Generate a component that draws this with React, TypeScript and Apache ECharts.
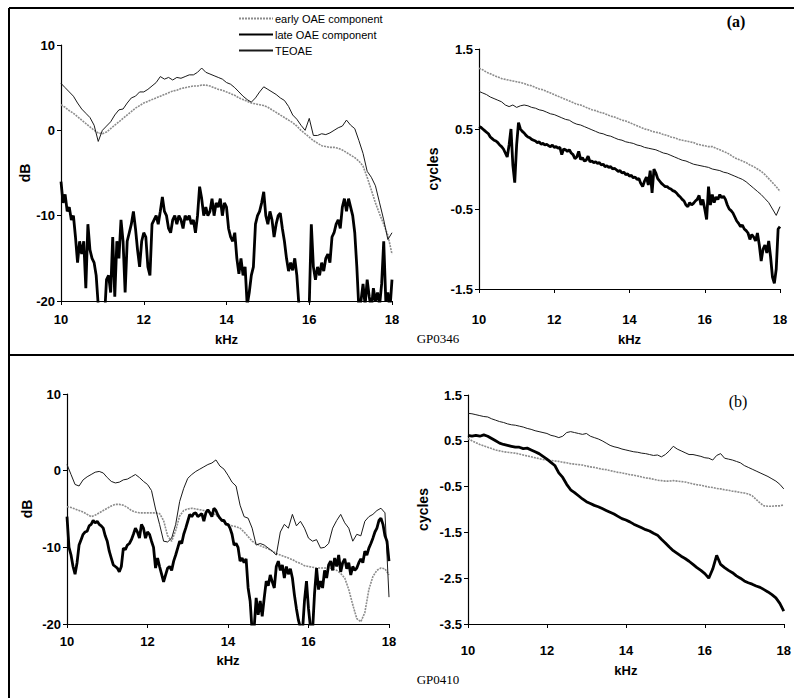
import React, { useEffect, useRef } from "react";
import * as echarts from "echarts";

// ---------- data (frequency in kHz, start 10, fixed step) ----------
const F_START = 10;
const STEP_FINE = 0.05;
const STEP = 0.1;

const SERIES_NAMES = ["early OAE component", "late OAE component", "TEOAE"];
const X_TICKS = [10, 12, 14, 16, 18];

// Panel (a) level, dB (step 0.1)
const aEarlyDb = [3,2.7,2.3,2,1.6,1.2,0.8,0.4,0,-0.3,-0.4,-0.2,0.2,0.6,1,1.4,1.8,2.2,2.6,2.9,3.2,3.4,3.6,3.8,4,4.2,4.4,4.6,4.7,4.9,5,5.1,5.2,5.2,5.3,5.3,5.2,5,4.8,4.7,4.5,4.3,4.1,3.8,3.6,3.4,3.2,3.1,3,2.9,2.7,2.4,2.1,1.8,1.5,1.2,0.9,0.5,0,-0.4,-0.8,-1.2,-1.5,-1.8,-1.9,-2,-2,-2.1,-2.3,-2.6,-2.9,-3.2,-3.6,-4.2,-5.5,-7,-8.5,-9.8,-11,-12.3,-14.5];
const aTeoaeDb = [5.5,5,4.5,4,3.2,2.5,2,1.5,0.6,-1.3,0,0.5,1,1.8,2.4,2.5,3.2,3.8,4,4.5,4.5,4.8,5.2,5.6,6.3,6,6.2,5.9,6.2,6.1,6.3,6.5,6.5,6.8,7.3,6.8,6.6,6.4,6.2,6,5.6,5.4,5,4.5,4,3.6,3.3,3.8,4.5,5.1,4.8,4.5,4.2,3.8,3.5,2.8,1.8,1.3,0.6,0,1.4,-0.6,-0.6,-0.4,-0.5,-0.3,0,0.3,0.5,1.2,0.6,0.2,-1.2,-2.7,-4.8,-5.5,-6.5,-8.5,-10.5,-12.8,-12];
// Panel (a) late component level, dB (step 0.05)
const aLateDb = [-6,-8.5,-7.5,-9.5,-9,-10.5,-10,-12.5,-15.5,-13,-14.5,-13,-18.5,-11,-14,-15,-15.5,-17,-20.5,-23,-24,-22,-17.5,-17,-19,-12.5,-19.5,-13,-15,-10.5,-13,-19,-13,-12,-11,-9.5,-11.5,-14,-16,-13,-12,-12.5,-16,-17,-11,-10.5,-10,-11,-9.5,-7.8,-9.5,-10,-11.5,-12,-10.5,-10,-11,-10,-10.5,-11.5,-10,-10.5,-10,-11,-10.5,-12,-10,-6.6,-8,-10,-9,-10,-9.5,-8,-10,-8.5,-9,-8,-10,-8.5,-9,-11.5,-12.5,-13,-12,-15,-16.8,-15,-17,-16,-20.5,-19,-17,-16,-11,-10,-9.5,-8.5,-7.2,-10,-11,-9.5,-10.5,-12.5,-11,-10,-9.7,-11.5,-13,-15,-16.5,-15.5,-16.4,-15,-17,-20.5,-22,-23,-21,-22,-20.5,-11,-16,-17.5,-16,-17,-15.5,-16.5,-15,-14.5,-15.5,-12.5,-12,-11,-10.5,-11.5,-9,-8,-9.5,-8,-9,-10,-12,-16,-21,-20,-18,-20.5,-17.5,-19.5,-21,-18.5,-20,-19,-20.5,-18,-13,-20,-19,-21,-17.5];

// Panel (a) phase, cycles
const aEarlyCyc = [1.26,1.24,1.21,1.19,1.17,1.15,1.13,1.12,1.11,1.1,1.09,1.08,1.07,1.05,1.04,1.02,1,0.99,0.97,0.95,0.93,0.91,0.89,0.87,0.85,0.83,0.81,0.8,0.78,0.76,0.74,0.73,0.71,0.7,0.68,0.66,0.65,0.63,0.61,0.6,0.58,0.56,0.54,0.52,0.5,0.49,0.47,0.46,0.45,0.43,0.42,0.4,0.39,0.37,0.36,0.35,0.34,0.33,0.31,0.3,0.29,0.28,0.28,0.26,0.24,0.22,0.2,0.17,0.14,0.12,0.1,0.08,0.05,0.03,0,-0.03,-0.07,-0.12,-0.17,-0.22,-0.28];
const aTeoaeCyc = [0.97,0.95,0.93,0.9,0.88,0.86,0.84,0.8,0.78,0.8,0.77,0.79,0.8,0.79,0.77,0.76,0.74,0.73,0.71,0.69,0.68,0.66,0.64,0.62,0.61,0.58,0.56,0.55,0.53,0.51,0.49,0.47,0.45,0.44,0.42,0.41,0.39,0.37,0.36,0.34,0.33,0.32,0.3,0.29,0.27,0.26,0.25,0.24,0.22,0.2,0.19,0.17,0.15,0.13,0.11,0.1,0.08,0.06,0.05,0.04,0.03,0.02,0,-0.01,-0.02,-0.04,-0.05,-0.07,-0.09,-0.11,-0.13,-0.16,-0.2,-0.24,-0.28,-0.32,-0.37,-0.42,-0.5,-0.58,-0.47];
const aLateCyc = [0.53,0.52,0.5,0.48,0.46,0.44,0.4,0.38,0.36,0.35,0.33,0.3,0.28,0.25,0.2,0.15,0.3,0.5,0.05,-0.17,0.3,0.58,0.5,0.47,0.45,0.42,0.4,0.39,0.37,0.36,0.35,0.33,0.34,0.31,0.32,0.3,0.31,0.29,0.28,0.3,0.27,0.28,0.26,0.27,0.18,0.25,0.24,0.22,0.24,0.2,0.18,0.13,0.15,0.22,0.12,0.14,0.1,0.11,0.16,0.09,0.1,0.08,0.09,0.07,0.08,0.05,0.06,0.03,0.04,0.02,0.03,0,0.01,-0.01,-0.03,-0.02,-0.05,-0.04,-0.07,-0.06,-0.09,-0.08,-0.11,-0.1,-0.13,-0.12,-0.18,-0.22,-0.15,-0.1,-0.2,-0.02,-0.3,0,-0.05,-0.12,-0.15,-0.18,-0.2,-0.22,-0.22,-0.24,-0.25,-0.27,-0.28,-0.3,-0.33,-0.35,-0.38,-0.4,-0.45,-0.47,-0.42,-0.45,-0.43,-0.4,-0.38,-0.33,-0.45,-0.38,-0.5,-0.63,-0.22,-0.45,-0.32,-0.42,-0.35,-0.38,-0.32,-0.36,-0.34,-0.38,-0.45,-0.5,-0.52,-0.55,-0.6,-0.65,-0.68,-0.72,-0.7,-0.75,-0.77,-0.8,-0.88,-0.82,-0.85,-0.9,-0.8,-0.95,-1.15,-1,-0.95,-1.05,-0.9,-1.1,-1.35,-1.43,-1.25,-0.75,-0.72];

// Panel (b) level, dB
const bEarlyDb = [-4.7,-4.8,-5,-5.2,-5.4,-5.7,-6,-5.8,-5.5,-5.2,-4.9,-4.6,-4.4,-4.4,-4.5,-4.8,-5.2,-5.4,-5.5,-5.5,-5.5,-5.5,-5.5,-5.6,-6.5,-8.5,-9.2,-7.8,-5.9,-5.2,-5,-4.9,-5,-5.1,-5.2,-5.4,-5.5,-5.8,-6.2,-6.7,-7,-7.2,-7.3,-7.5,-8,-8.6,-9.2,-9.5,-9.8,-10,-10.2,-10.5,-10.8,-11,-11.2,-11.4,-11.6,-11.9,-12.1,-12.4,-12.5,-12.6,-12.7,-12.7,-12.7,-12.7,-12.8,-13,-13.4,-14,-15.5,-17.5,-19.3,-19.7,-18.5,-15.5,-13.8,-13,-12.7,-12.8,-13.6];
const bTeoaeDb = [0.8,-0.5,-1.8,-2,-1.2,-0.8,-0.5,-0.2,-0.1,-0.3,-0.9,-1.4,-1.6,-1.5,-1.2,-1.1,-0.8,-0.5,-0.9,-1.4,-1.8,-2.6,-5,-7,-9.2,-9.3,-8.8,-7,-4,-2.3,-1,-0.5,-0.1,0.2,0.5,0.8,1,1.4,0.6,0.2,-0.6,-1.5,-2,-4.5,-6,-6.2,-7.5,-9.7,-9.5,-9.7,-10.1,-10.5,-11,-8,-7,-7.5,-5.7,-7.2,-6.6,-7.5,-8.8,-9.2,-9,-10.1,-10,-9.5,-7.5,-6.5,-5.7,-6.8,-7.5,-9.2,-8.3,-8.5,-6.6,-6,-5.7,-5.2,-4.9,-5.5,-16.5];
// Panel (b) late component level, dB (step 0.05)
const bLateDb = [-6,-10,-11,-12.5,-13.5,-12,-9.7,-9,-8.3,-8,-7.9,-7.2,-7,-6.5,-6.8,-6.6,-7,-7.2,-7.5,-8.5,-9.2,-10.5,-11.4,-12.3,-12.5,-12.7,-13.2,-12.5,-10.1,-10.3,-9.7,-9.5,-9,-8.3,-7.5,-8,-8.8,-7,-7.5,-8.8,-8,-8.3,-9.2,-10,-12.7,-11.4,-12.5,-13.5,-14.5,-13.6,-12.7,-12.5,-13,-11.8,-11,-10.1,-9.2,-9.5,-8.3,-7.5,-6.6,-5.7,-6,-5.6,-5.5,-6,-5.8,-5.6,-6.6,-5.5,-5.1,-5.5,-6,-4.9,-5.2,-5.8,-6.2,-6.5,-6.5,-7,-7,-7.5,-8.3,-9.7,-9.5,-10,-11.8,-11.4,-12,-11.5,-15.3,-17,-21,-20.5,-16.6,-18.8,-17,-19,-16.6,-14.4,-15,-13.6,-14.5,-15.3,-12.5,-11.8,-13,-12.3,-14,-12.5,-13.5,-12.8,-14,-16.2,-18,-19.5,-20.5,-21,-17,-14.4,-18,-20.5,-21,-16,-12.7,-15.5,-14.4,-15.3,-13,-14,-12.3,-11.8,-13,-11.4,-12.5,-11,-13.2,-12,-11.5,-12.8,-12,-13.6,-12.5,-13,-12.7,-12,-11.5,-12,-10.5,-11,-10.1,-9.5,-8.8,-8,-7.5,-6.5,-6.2,-7,-8.5,-9.2,-11.8];

// Panel (b) phase, cycles
const bEarlyCyc = [0.55,0.5,0.46,0.42,0.39,0.36,0.33,0.3,0.28,0.26,0.25,0.24,0.23,0.21,0.19,0.17,0.15,0.13,0.11,0.09,0.08,0.07,0.06,0.05,0.03,0.02,0,-0.01,-0.02,-0.03,-0.05,-0.07,-0.08,-0.1,-0.12,-0.13,-0.15,-0.17,-0.19,-0.2,-0.22,-0.24,-0.25,-0.27,-0.29,-0.31,-0.32,-0.34,-0.36,-0.37,-0.38,-0.38,-0.37,-0.38,-0.39,-0.4,-0.42,-0.44,-0.46,-0.47,-0.49,-0.51,-0.52,-0.54,-0.55,-0.57,-0.58,-0.6,-0.61,-0.63,-0.64,-0.66,-0.7,-0.78,-0.86,-0.92,-0.93,-0.93,-0.92,-0.92,-0.9];
const bTeoaeCyc = [1.1,1.09,1.07,1.05,1.03,1.02,0.98,0.95,0.92,0.9,0.87,0.85,0.84,0.82,0.8,0.77,0.75,0.72,0.7,0.68,0.66,0.62,0.6,0.57,0.6,0.68,0.7,0.68,0.66,0.64,0.66,0.6,0.57,0.54,0.5,0.45,0.4,0.37,0.35,0.32,0.3,0.28,0.26,0.25,0.23,0.22,0.2,0.18,0.19,0.15,0.2,0.28,0.38,0.32,0.28,0.24,0.2,0.2,0.18,0.16,0.13,0.12,0.08,0.18,0.22,0.12,0.1,0.08,0.05,0.02,-0.04,-0.08,-0.12,-0.16,-0.2,-0.24,-0.28,-0.33,-0.38,-0.45,-0.55];
const bLateCyc = [0.62,0.6,0.62,0.6,0.63,0.6,0.55,0.5,0.45,0.42,0.4,0.38,0.36,0.36,0.33,0.34,0.3,0.26,0.22,0.16,0.1,0.03,-0.04,-0.2,-0.3,-0.45,-0.57,-0.63,-0.7,-0.77,-0.83,-0.87,-0.91,-0.94,-0.98,-1.02,-1.06,-1.1,-1.15,-1.2,-1.23,-1.27,-1.32,-1.36,-1.4,-1.44,-1.47,-1.52,-1.56,-1.65,-1.73,-1.82,-1.9,-1.96,-2.02,-2.07,-2.13,-2.2,-2.27,-2.33,-2.4,-2.5,-2.3,-2.0,-2.2,-2.27,-2.33,-2.38,-2.45,-2.5,-2.56,-2.6,-2.63,-2.67,-2.7,-2.75,-2.8,-2.86,-2.93,-3.05,-3.22];

// ---------- helpers ----------
const toPairs = (vals: number[], step: number) =>
  vals.map((v, i) => [Number((F_START + i * step).toFixed(3)), v]);

const FONT_SANS = "'Liberation Sans', Arial, sans-serif";
const FONT_SERIF = "'Liberation Serif', 'Times New Roman', serif";

const STYLE_EARLY = { color: "#8c8c8c", width: 1.6, type: [2, 1] as any };
const STYLE_LATE = { color: "#000", width: 2.8, type: "solid" as any };
const STYLE_TEOAE = { color: "#1a1a1a", width: 1, type: "solid" as any };

function mkSeries(name: string, data: number[][], idx: number, style: any) {
  return {
    type: "line",
    name,
    data,
    xAxisIndex: idx,
    yAxisIndex: idx,
    symbol: "none",
    showSymbol: false,
    clip: true,
    lineStyle: style,
    itemStyle: { color: style.color },
    emphasis: { disabled: true },
  };
}

function xAxis(idx: number, labelMargin: number, nameGap: number) {
  return {
    type: "value",
    gridIndex: idx,
    min: 10,
    max: 18,
    interval: 2,
    name: "kHz",
    nameLocation: "middle",
    nameGap,
    nameTextStyle: { fontFamily: FONT_SANS, fontWeight: "bold", fontSize: 13, color: "#000" },
    axisLine: { show: true, onZero: false, lineStyle: { color: "#000", width: 1.2 } },
    axisTick: { show: true, inside: false, length: 4, lineStyle: { color: "#000" } },
    axisLabel: {
      margin: labelMargin,
      color: "#000",
      fontFamily: FONT_SANS,
      fontWeight: "bold",
      fontSize: 13,
      customValues: X_TICKS,
    },
    splitLine: { show: false },
  };
}

function yAxis(idx: number, min: number, max: number, interval: number, name: string, nameGap: number) {
  return {
    type: "value",
    gridIndex: idx,
    min,
    max,
    interval,
    name,
    nameLocation: "middle",
    nameGap,
    nameRotate: 90,
    nameTextStyle: { fontFamily: FONT_SANS, fontWeight: "bold", fontSize: 14, color: "#000" },
    axisLine: { show: true, onZero: false, lineStyle: { color: "#000", width: 1.2 } },
    axisTick: { show: true, inside: false, length: 4, lineStyle: { color: "#000" } },
    axisLabel: { margin: 6, color: "#000", fontFamily: FONT_SANS, fontWeight: "bold", fontSize: 13 },
    splitLine: { show: false },
  };
}

export default function App() {
  const ref = useRef<HTMLDivElement>(null);

  useEffect(() => {
    document.body.style.margin = "0";
    if (!ref.current) return;
    const chart = echarts.init(ref.current, null, { renderer: "svg" });

    const option: any = {
      animation: false,
      backgroundColor: "#fff",
      grid: [
        { left: 61, top: 45, width: 331, height: 256 },
        { left: 479, top: 49, width: 301, height: 240 },
        { left: 67, top: 394, width: 322, height: 230 },
        { left: 468, top: 395, width: 318, height: 229 },
      ],
      xAxis: [xAxis(0, 12, 32), xAxis(1, 24, 44), xAxis(2, 11, 30), xAxis(3, 20, 40)],
      yAxis: [
        yAxis(0, -20, 10, 10, "dB", 18),
        yAxis(1, -1.5, 1.5, 1, "cycles", 39),
        yAxis(2, -20, 10, 10, "dB", 33),
        yAxis(3, -3.5, 1.5, 1, "cycles", 38),
      ],
      legend: {
        orient: "vertical",
        left: 233,
        top: 8,
        itemWidth: 34,
        itemHeight: 10,
        itemGap: 5,
        selectedMode: false,
        itemStyle: { opacity: 0 },
        textStyle: { fontFamily: FONT_SANS, fontSize: 11, color: "#000", padding: [0, 0, 0, -3] },
        data: SERIES_NAMES,
      },
      series: [
        mkSeries(SERIES_NAMES[0], toPairs(aEarlyDb, STEP), 0, STYLE_EARLY),
        mkSeries(SERIES_NAMES[2], toPairs(aTeoaeDb, STEP), 0, STYLE_TEOAE),
        mkSeries(SERIES_NAMES[1], toPairs(aLateDb, STEP_FINE), 0, STYLE_LATE),

        mkSeries(SERIES_NAMES[0], toPairs(aEarlyCyc, STEP), 1, STYLE_EARLY),
        mkSeries(SERIES_NAMES[2], toPairs(aTeoaeCyc, STEP), 1, STYLE_TEOAE),
        mkSeries(SERIES_NAMES[1], toPairs(aLateCyc, STEP_FINE), 1, STYLE_LATE),

        mkSeries(SERIES_NAMES[0], toPairs(bEarlyDb, STEP), 2, STYLE_EARLY),
        mkSeries(SERIES_NAMES[2], toPairs(bTeoaeDb, STEP), 2, STYLE_TEOAE),
        mkSeries(SERIES_NAMES[1], toPairs(bLateDb, STEP_FINE), 2, STYLE_LATE),

        mkSeries(SERIES_NAMES[0], toPairs(bEarlyCyc, STEP), 3, STYLE_EARLY),
        mkSeries(SERIES_NAMES[2], toPairs(bTeoaeCyc, STEP), 3, STYLE_TEOAE),
        mkSeries(SERIES_NAMES[1], toPairs(bLateCyc, STEP), 3, STYLE_LATE),
      ],
      graphic: [
        { type: "line", shape: { x1: 9, y1: 8, x2: 794, y2: 8 }, style: { stroke: "#000", lineWidth: 2 } },
        { type: "line", shape: { x1: 9, y1: 8, x2: 9, y2: 698 }, style: { stroke: "#000", lineWidth: 2 } },
        { type: "line", shape: { x1: 9, y1: 355, x2: 794, y2: 355 }, style: { stroke: "#000", lineWidth: 2 } },
        {
          type: "text",
          x: 736,
          y: 21,
          style: { text: "(a)", font: `bold 16px ${FONT_SERIF}`, fill: "#000", align: "center", verticalAlign: "middle" },
        },
        {
          type: "text",
          x: 738,
          y: 401,
          style: { text: "(b)", font: `16px ${FONT_SERIF}`, fill: "#000", align: "center", verticalAlign: "middle" },
        },
        {
          type: "text",
          x: 438,
          y: 338,
          style: { text: "GP0346", font: `13px ${FONT_SERIF}`, fill: "#000", align: "center", verticalAlign: "middle" },
        },
        {
          type: "text",
          x: 438,
          y: 679,
          style: { text: "GP0410", font: `13px ${FONT_SERIF}`, fill: "#000", align: "center", verticalAlign: "middle" },
        },
      ],
    };

    chart.setOption(option);
    return () => chart.dispose();
  }, []);

  return <div ref={ref} style={{ width: 794, height: 698 }} />;
}
